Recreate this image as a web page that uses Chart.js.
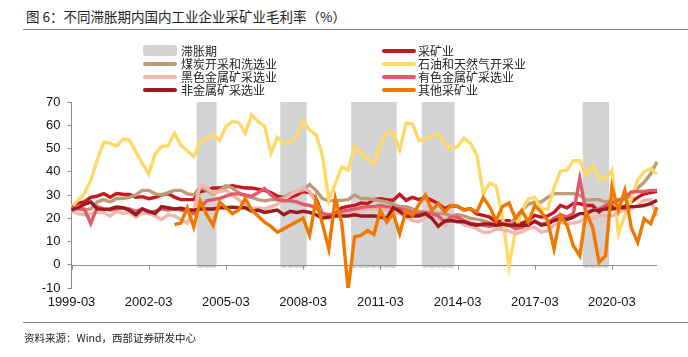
<!DOCTYPE html>
<html><head><meta charset="utf-8">
<script src="https://cdn.jsdelivr.net/npm/chart.js@4/dist/chart.umd.min.js"></script>
<style>
html,body{margin:0;padding:0;background:#fff;}
#wrap{position:relative;width:688px;height:357px;overflow:hidden;font-family:"Noto Sans CJK SC","Noto Sans",sans-serif;color:#222;}
#title{position:absolute;left:26px;top:6px;font-size:13.5px;line-height:20px;white-space:pre;}
.rule{position:absolute;left:23px;right:0;height:1px;background:#8a8a8a;}
#source{position:absolute;left:24px;top:330px;font-size:10.5px;line-height:16px;white-space:nowrap;}
.lgt{position:absolute;font-size:12px;line-height:15px;white-space:nowrap;}
.sw{position:absolute;width:34px;}
canvas{position:absolute;left:0;top:0;}
</style></head>
<body><div id="wrap">
<div id="title">图 6：不同滞胀期内国内工业企业采矿业毛利率（%）</div>
<div class="rule" style="top:29px"></div>
<canvas id="c" width="688" height="357"></canvas>
<div id="legend"></div>
<div class="rule" style="top:322px"></div>
<div id="source">资料来源：Wind，西部证券研发中心</div>
</div>
<script>
const quarters = [
'1999-03','1999-06','1999-09','1999-12','2000-03','2000-06','2000-09','2000-12',
'2001-03','2001-06','2001-09','2001-12','2002-03','2002-06','2002-09','2002-12',
'2003-03','2003-06','2003-09','2003-12','2004-03','2004-06','2004-09','2004-12',
'2005-03','2005-06','2005-09','2005-12','2006-03','2006-06','2006-09','2006-12',
'2007-03','2007-06','2007-09','2007-12','2008-03','2008-06','2008-09','2008-12',
'2009-03','2009-06','2009-09','2009-12','2010-03','2010-06','2010-09','2010-12',
'2011-03','2011-06','2011-09','2011-12','2012-03','2012-06','2012-09','2012-12',
'2013-03','2013-06','2013-09','2013-12','2014-03','2014-06','2014-09','2014-12',
'2015-03','2015-06','2015-09','2015-12','2016-03','2016-06','2016-09','2016-12',
'2017-03','2017-06','2017-09','2017-12','2018-03','2018-06','2018-09','2018-12',
'2019-03','2019-06','2019-09','2019-12','2020-03','2020-06','2020-09','2020-12',
'2021-03','2021-06','2021-09','2021-12'];
const tickLabels = ['1999-03','2002-03','2005-03','2008-03','2011-03','2014-03','2017-03','2020-03'];
const stagflationPeriods = [['2004-03','2004-09'],['2007-06','2008-03'],['2010-03','2011-09'],['2012-12','2013-12'],['2019-03','2019-12']];
const stagflationTop = 70;
const stagflationBottom = -1.3;

const mining = [25,26.5,27,29,29.5,30.6,29,30.6,30.3,30.2,
29,29.3,28.4,29,30,30.6,29.1,28,28,28,
31.5,32,33,33,33.5,34,33.5,33,33,32.5,
32,31,29.5,29,29,30,31.5,31,28.4,21.9,
21.2,21.9,24.5,25.1,25.5,26.6,26.3,28,28.4,28,
27.7,30.3,27.7,29,28,29,27.7,26.3,24.1,25.5,
25.1,23.7,24.1,21.9,21.2,20.5,18.3,19,19,17.6,
17.9,19,21.2,20.5,21,22.5,25.5,24.5,26.4,26.3,
25.5,25.5,22.7,25.1,25.1,24.5,25.1,27,29,30.5,
31,31.6];
const coal = [25.5,24.5,23.5,24,27,28,27,28.5,28.5,29,
30,32,32,30.5,30,31,32,32,30.5,30,
33.5,32,30.5,32,34,33,31,29.5,29,28,
27.5,28,28,29,30.5,31.5,32,34.5,32,28.5,
27.5,27.7,27.7,28,30,28.5,28.5,28,27.5,27,
26,25,25,24,23,22.5,22.5,22,22,21,
21.5,21,20,19.5,19,18,17,16.5,17,20,
23.5,26,27,27,29,30.6,30.6,30.6,30.6,29.9,
27.7,28,28,27,27.7,28,28,30,33,35.5,
39,44.3];
const oilGas = [25,27.7,30.6,36.4,45,52.7,52.2,51.1,54,53.7,
48.6,43.6,39,47.6,50.8,51.2,56.6,51.5,49,46.5,
53,54.5,55.8,53.4,59.5,61.6,61.2,56.6,64.5,61.6,
59.7,48,54.8,52.2,53,55,62,58,56,47,
27.7,34.9,42.1,40.7,50.8,48,45.5,43.6,52.2,56.6,
56.9,49.4,60.9,60.6,53.4,54,55.4,56.1,52.2,50,
50.8,54.4,52.2,47.2,30.6,35.2,33.8,20.5,-0.5,14.7,
23.4,28.4,29,24,24,33,40.4,40.7,44.7,44.7,
38.5,42.9,37,37,40.7,13.3,21.2,28,36.4,40,
41.4,39];
const ferrous = [23,22,21.5,22,22.5,22.5,21,23,22,22.5,
20.5,22,22,21,19.5,21.5,21,19.5,18,23,
34.5,33,31,31.5,32,30,28,25.5,24,24.5,
24,25,26,28,30,31.5,33,31.5,27,21.5,
20,21,22,22.5,23,23,24,24,24,23.5,
23,22,20.5,19,18.5,20.5,21,20.5,16.5,19.8,
19.5,17,16.5,15.5,14,14,15.5,15,14.5,13.3,
14,15.5,16.2,14,14.7,17,18.3,17.5,18,18.5,
20.5,20,21,21.2,21,22.5,23.5,24,25.5,27.7,
28,21];
const nonferrous = [25,24,24,17.7,25,24,23.5,24,24.5,24,
23,24,22.5,23,24,23.5,24,23.5,23,22,
24.5,27.5,28,28.5,29.5,30.5,30.5,30,29.5,31,
32.8,30,28,27.5,27.5,27,26,25.5,24.5,22,
21.5,22,23,23.5,24,24.5,25,25,25.5,25,
24.5,24,23.5,22.5,22,22.5,22,21,18.5,20.5,
20.5,19,18,17.5,17,16.5,17,17.5,17,15.5,
16,17.5,18.5,17.5,18,20,21.5,20.5,22,37.1,
22,23.5,24,25.5,26.5,27.7,29,31.3,31.5,31.5,
32,32];
const nonmetal = [23.5,24.5,26,27,24,23.8,24,24.8,24.5,23.4,
21.5,24,23,22,25,24.5,24,24.3,23.7,23.5,
24,24,24,24.5,24.5,24.8,24.5,24.5,23,23.5,
22.5,23,23.5,21.5,23,22.5,23,22.5,21.5,20,
20.5,21,21,21,21.5,21,21,21,20.5,20,
24.5,23,21,21,21,22,20,16.5,18.8,19,
18.5,18.5,17.5,17,17.5,17.5,17,17.5,17,17,
17,17,18.8,17,17.5,19,19.8,19.5,20.5,22,
22,23.4,23.5,24,24,24.5,24.5,25,25.1,25.5,
26.3,27.7];
const otherMining = [null,null,null,null,null,null,null,null,null,null,
null,null,null,null,null,null,17.3,17.9,24.5,16.2,
27.5,21.5,17,27,24.5,22,23.5,28.5,23.5,21,
18.3,16.5,14,15.5,17,18.5,20,12.6,28,17.6,
6.8,28.5,18,-10.5,12,12.6,14.7,13,23.4,18.3,
21.9,13.3,23.4,21.2,26,30,23.4,26.3,22.7,25.5,
25.1,23.4,24.1,22.7,28.9,24.8,19,25.1,26.6,19.8,
23.4,18.3,25.5,22.7,19,6.8,21.2,17,8.2,3.9,
22.7,16,1,3.9,33.5,23.4,32,16,9.6,19.8,
17.6,24.8];

const seriesNames = ['采矿业','煤炭开采和洗选业','石油和天然气开采业','黑色金属矿采选业','有色金属矿采选业','非金属矿采选业','其他采矿业'];
const seriesColors = ['#C8161E','#BF9A78','#FFD966','#F1B7AE','#E05A69','#9A1A1E','#F07800'];
const seriesValues = [mining, coal, oilGas, ferrous, nonferrous, nonmetal, otherMining];
const stagName = '滞胀期';
const stagColor = '#D3D3D3';

const stagData = quarters.map(q => {
  for (const [a,b] of stagflationPeriods) { if (q >= a && q <= b) return [stagflationBottom, stagflationTop]; }
  return null;
});

const datasets = [{
  type:'bar', label:stagName, data:stagData, backgroundColor:stagColor, borderWidth:0,
  borderSkipped:false, borderRadius:{topLeft:0,topRight:0,bottomLeft:3,bottomRight:3},
  categoryPercentage:1, barPercentage:1, order:20
}];
seriesNames.forEach((n,k) => {
  datasets.push({type:'line', label:n, data:seriesValues[k], borderColor:seriesColors[k], backgroundColor:seriesColors[k],
    borderWidth:3.4, pointRadius:0, tension:0, fill:false, order:10-k, spanGaps:false});
});

const lg = document.getElementById('legend');
const items = [{n:stagName,c:stagColor,box:true}].concat(seriesNames.map((n,k)=>({n:n,c:seriesColors[k],box:false})));
items.forEach((it,k) => {
  const col = k%2, row = Math.floor(k/2);
  const cy = 50.5 + row*13.1;
  const sx = col===0 ? 143 : 382;
  const tx = col===0 ? 181 : 418;
  const sw = document.createElement('div');
  sw.className='sw';
  sw.style.left = sx+'px';
  sw.style.background = it.c;
  if (it.box) { sw.style.top=(cy-5.5)+'px'; sw.style.height='11px'; sw.style.borderRadius='3px'; }
  else { sw.style.top=(cy-2)+'px'; sw.style.height='4px'; sw.style.borderRadius='2px'; }
  lg.appendChild(sw);
  const t = document.createElement('div');
  t.className='lgt'; t.textContent = it.n;
  t.style.left = tx+'px'; t.style.top = (cy-8)+'px';
  lg.appendChild(t);
});

const zeroAxis = {
  id:'zeroAxis',
  afterDatasetDraw(chart, args) {
    if (args.index !== 0) return;
    const {ctx, chartArea, scales:{x,y}} = chart;
    const y0 = Math.round(y.getPixelForValue(0)) + 0.5;
    ctx.save();
    ctx.strokeStyle = '#8c8c8c'; ctx.lineWidth = 1;
    ctx.beginPath();
    ctx.moveTo(chartArea.left, y0); ctx.lineTo(chartArea.right, y0);
    quarters.forEach((q,i) => {
      if (tickLabels.includes(q)) { const px = Math.round(x.getPixelForValue(i)) + 0.5; ctx.moveTo(px, y0); ctx.lineTo(px, y0+4); }
    });
    ctx.stroke();
    ctx.restore();
  }
};

const axisFont = {family:'"Liberation Sans", Arial, sans-serif', size:13};
new Chart(document.getElementById('c'), {
  type:'line',
  data:{labels:quarters, datasets:datasets},
  options:{
    responsive:false, animation:false,
    layout:{padding:{top:102,right:31,bottom:0,left:0}},
    plugins:{legend:{display:false}, tooltip:{enabled:false}},
    scales:{
      x:{type:'category', offset:false,
         grid:{display:false, drawTicks:false}, border:{display:false},
         ticks:{autoSkip:false, maxRotation:0, minRotation:0, padding:7, color:'#111', font:axisFont,
                callback:(v,i) => tickLabels.includes(quarters[i]) ? quarters[i] : ''},
         afterFit:s => { s.height = 69; }},
      y:{min:-10, max:70,
         ticks:{stepSize:10, padding:7, color:'#111', font:axisFont},
         grid:{drawOnChartArea:false, drawTicks:true, tickLength:4, color:'#8c8c8c'},
         border:{display:true, color:'#8c8c8c'},
         afterFit:s => { s.width = 71.5; }}
    }
  },
  plugins:[zeroAxis]
});
</script>
</body></html>
